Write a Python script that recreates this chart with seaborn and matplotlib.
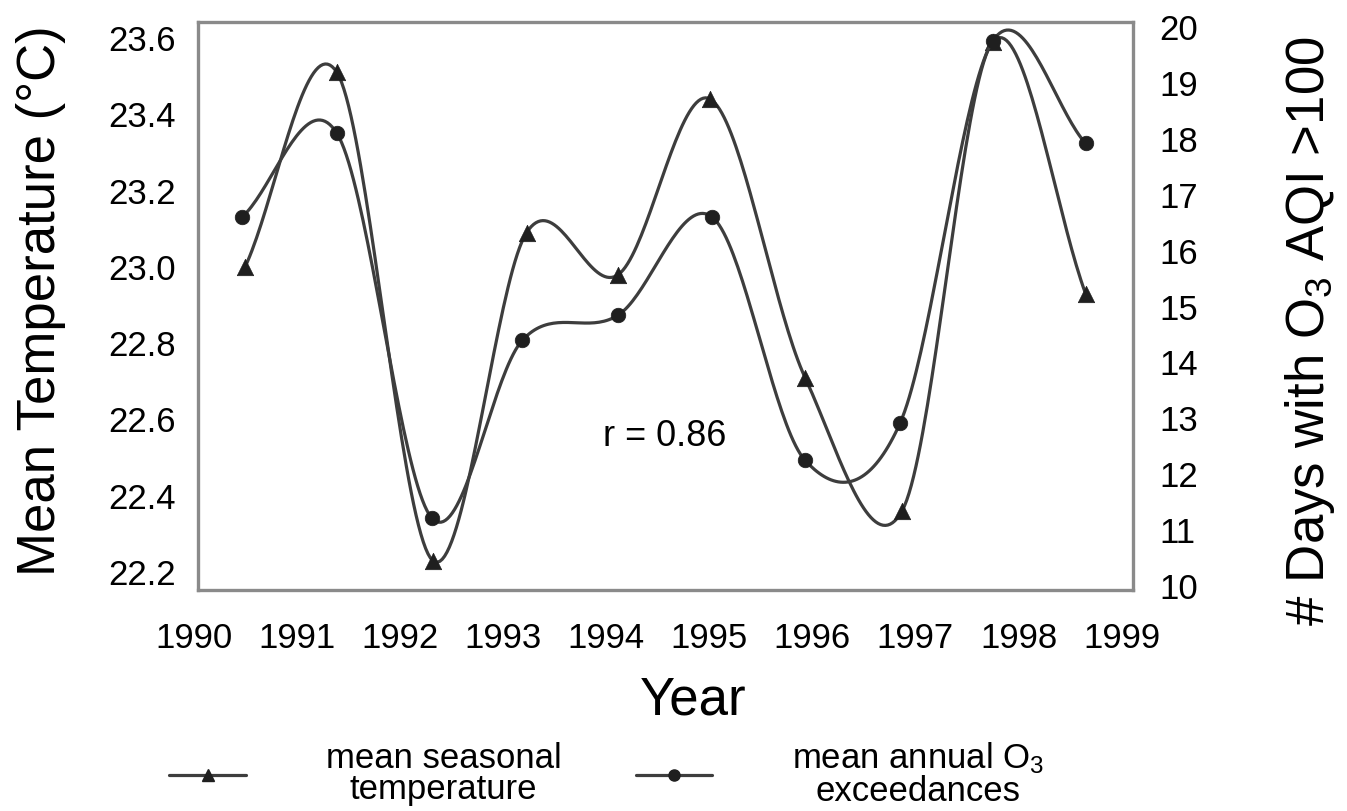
import numpy as np
import matplotlib
matplotlib.use("Agg")
import matplotlib.pyplot as plt
import seaborn as sns
from matplotlib.lines import Line2D

# ---------------- data ----------------
temp_years = [1990.50, 1991.39, 1992.32, 1993.23, 1994.12, 1995.01, 1995.93, 1996.87, 1997.75, 1998.65]
temperature = [23.00, 23.51, 22.23, 23.09, 22.98, 23.44, 22.71, 22.36, 23.59, 22.93]

o3_years = [1990.47, 1991.39, 1992.31, 1993.19, 1994.12, 1995.03, 1995.93, 1996.85, 1997.75, 1998.65]
o3_days = [16.60, 18.10, 11.22, 14.40, 14.85, 16.60, 12.25, 12.91, 19.75, 17.92]

year_ticks = list(range(1990, 2000))
temp_ticks = [22.2, 22.4, 22.6, 22.8, 23.0, 23.2, 23.4, 23.6]
o3_ticks = list(range(10, 21))

r_text = "r = 0.86"
label_temp = "mean seasonal\ntemperature"
label_o3 = "mean annual O$_3$\nexceedances"


def catmull_rom(x, y, n=40):
    """Smooth curve through the points (Excel-like smoothed line)."""
    P = np.column_stack([np.asarray(x, float), np.asarray(y, float)])
    P = np.vstack([2 * P[0] - P[1], P, 2 * P[-1] - P[-2]])
    t = np.linspace(0, 1, n, endpoint=False)[:, None]
    segs = []
    for i in range(1, len(P) - 2):
        p0, p1, p2, p3 = P[i - 1], P[i], P[i + 1], P[i + 2]
        seg = 0.5 * (2 * p1 + (-p0 + p2) * t
                     + (2 * p0 - 5 * p1 + 4 * p2 - p3) * t ** 2
                     + (-p0 + 3 * p1 - 3 * p2 + p3) * t ** 3)
        segs.append(seg)
    segs.append(P[-2][None, :])
    out = np.vstack(segs)
    return out[:, 0], out[:, 1]


# ---------------- style ----------------
sns.set_theme(style="white")
plt.rcParams["font.family"] = ["Liberation Sans", "DejaVu Sans"]
plt.rcParams["mathtext.default"] = "regular"
plt.rcParams["text.color"] = "black"

LINE = "#3d3d3d"
MK = "#1f1f1f"
FRAME = "#8a8a8a"

W, H = 1347, 811
fig = plt.figure(figsize=(W / 100, H / 100), dpi=100)
fig.patch.set_facecolor("white")

ax_left_px, ax_right_px = 183.2, 1133.0
ax = fig.add_axes([ax_left_px / W, (H - 590) / H, (ax_right_px - ax_left_px) / W, 568 / H])
XL, XR = 1990.044, 1999.11
ax.set_xlim(1989.9, XR)
ax.set_ylim(22.153, 23.642)

ax2 = ax.twinx()
ax2.set_ylim(9.93, 20.09)

# temperature series (left axis)
tx, ty = catmull_rom(temp_years, temperature)
sns.lineplot(x=tx, y=ty, ax=ax, sort=False, estimator=None, color=LINE, linewidth=2.3)
sns.scatterplot(x=temp_years, y=temperature, ax=ax, marker="^", s=140,
                color=MK, edgecolor=MK, linewidth=0.5, zorder=3)

# O3 series (right axis)
ox, oy = catmull_rom(o3_years, o3_days)
sns.lineplot(x=ox, y=oy, ax=ax2, sort=False, estimator=None, color=LINE, linewidth=2.3)
sns.scatterplot(x=o3_years, y=o3_days, ax=ax2, marker="o", s=110,
                color=MK, edgecolor=MK, linewidth=0.5, zorder=3)

# restore limits after seaborn
ax.set_xlim(1989.9, XR)
ax.set_ylim(22.153, 23.642)
ax2.set_ylim(9.93, 20.09)

# frame
for side in ["left", "right", "top", "bottom"]:
    ax.spines[side].set_visible(True)
    ax.spines[side].set_color(FRAME)
    ax.spines[side].set_linewidth(2.4)
ax.spines["left"].set_position(("data", XL))
ax.spines["top"].set_bounds(XL, XR)
ax.spines["bottom"].set_bounds(XL, XR)
for side in ["left", "right", "top", "bottom"]:
    ax2.spines[side].set_visible(False)

# ticks
ax.set_xticks(year_ticks)
ax.set_xticklabels([str(y) for y in year_ticks])
ax.set_yticks(temp_ticks)
ax.set_yticklabels([f"{v:.1f}" for v in temp_ticks])
ax2.set_yticks(o3_ticks)
ax2.set_yticklabels([str(v) for v in o3_ticks])
ax.tick_params(axis="x", length=0, pad=23, labelsize=25, colors="black")
ax.tick_params(axis="y", length=0, pad=16, labelsize=25, colors="black")
ax2.tick_params(axis="y", length=0, pad=19, labelsize=25, colors="black")

# labels
ax.set_xlabel("Year", fontsize=38, color="black")
ax.xaxis.set_label_coords(0.537, -0.151)
ax.set_ylabel("Mean Temperature (°C)", fontsize=38, color="black")
ax.yaxis.set_label_coords(-0.1234, 0.51)
ax2.set_ylabel("# Days with O$_3$ AQI >100", fontsize=38, color="black")
ax2.yaxis.set_label_coords(1.158, 0.456)

ax.text(0.507, 0.271, r_text, transform=ax.transAxes, fontsize=26,
        ha="center", va="center", color="black")

# legend
handles = [
    Line2D([], [], color=LINE, linewidth=2.3, marker="^", markersize=9, mfc=MK, mec=MK),
    Line2D([], [], color=LINE, linewidth=2.3, marker="o", markersize=8, mfc=MK, mec=MK),
]
leg = fig.legend(handles, [label_temp, label_o3], loc="center",
                 bbox_to_anchor=(607 / W, 1 - 774 / H), ncol=2, frameon=False,
                 fontsize=25, handlelength=2.2, handletextpad=2.3, columnspacing=2.15,
                 borderpad=0.1)
for t in leg.get_texts():
    t.set_multialignment("center")
    t.set_linespacing(0.95)
    t.set_color("black")

fig.savefig("out.png", dpi=100, facecolor="white")
